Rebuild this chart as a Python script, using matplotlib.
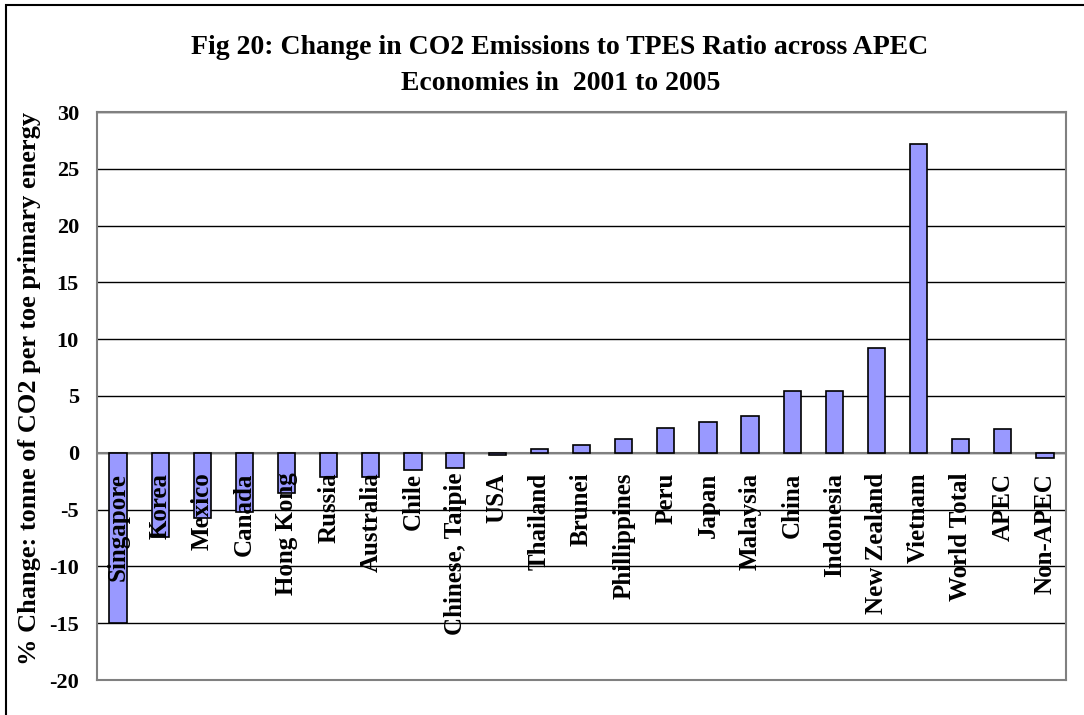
import matplotlib
matplotlib.use("Agg")
import matplotlib.pyplot as plt
from matplotlib.patches import Rectangle

# values (% change, 2001 to 2005)
economies = ['Singapore', 'Korea', 'Mexico', 'Canada', 'Hong Kong', 'Russia',
             'Australia', 'Chile', 'Chinese, Taipie', 'USA', 'Thailand', 'Brunei',
             'Phillippines', 'Peru', 'Japan', 'Malaysia', 'China', 'Indonesia',
             'New Zealand', 'Vietnam', 'World Total', 'APEC', 'Non-APEC']
change = [-15.0, -7.4, -5.7, -5.2, -3.5, -2.1,
          -2.1, -1.5, -1.3, -0.15, 0.35, 0.65,
          1.25, 2.15, 2.75, 3.2, 5.4, 5.4,
          9.2, 27.2, 1.25, 2.1, -0.45]
yticks = [-20, -15, -10, -5, 0, 5, 10, 15, 20, 25, 30]

serif = 'Liberation Serif'
W, H = 1084, 715

fig = plt.figure(figsize=(W / 100, H / 100), dpi=100)
ax = fig.add_axes([97 / W, (H - 680) / H, 969 / W, 568 / H])

x = list(range(len(economies)))
ax.bar(x, change, width=0.41, color='#9999FF', edgecolor='black', linewidth=1.2, zorder=3)
ax.axhline(0, color='#808080', lw=1.5, zorder=2)

ax.set_xlim(-0.5, len(economies) - 0.5)
ax.set_ylim(-20, 30)
ax.set_yticks(yticks)
ax.set_yticklabels([str(t) for t in yticks], fontsize=16, fontweight='bold', family=serif)
ax.tick_params(axis='y', length=0, pad=13)
ax.set_xticks([])
ax.yaxis.grid(True, color='black', lw=1)
ax.set_axisbelow(True)
for s in ax.spines.values():
    s.set_color('#808080')
    s.set_linewidth(1.5)

# category names sit just under the zero line, inside the plot
for i, name in enumerate(economies):
    ax.text(i, -1.75, name, rotation=90, ha='center', va='top',
            fontsize=18, fontweight='bold', family=serif, zorder=4)

fig.text(30 / W, 1 - 388 / H, '% Change: tonne of CO2 per toe primary energy',
         rotation=90, ha='center', va='center', fontsize=19, fontweight='bold', family=serif)

fig.text(560 / W, 1 - 47 / H, 'Fig 20: Change in CO2 Emissions to TPES Ratio across APEC',
         ha='center', va='center', fontsize=20, fontweight='bold', family=serif)
fig.text(561 / W, 1 - 83 / H, 'Economies in  2001 to 2005',
         ha='center', va='center', fontsize=20, fontweight='bold', family=serif)

# outer chart frame (only left and top edges fall inside the picture)
fig.add_artist(Rectangle((6 / W, -0.1), 1.2, 1.1 - 5 / H, transform=fig.transFigure,
                         fill=False, edgecolor='black', lw=1.5))

fig.savefig('out.png', dpi=100)
